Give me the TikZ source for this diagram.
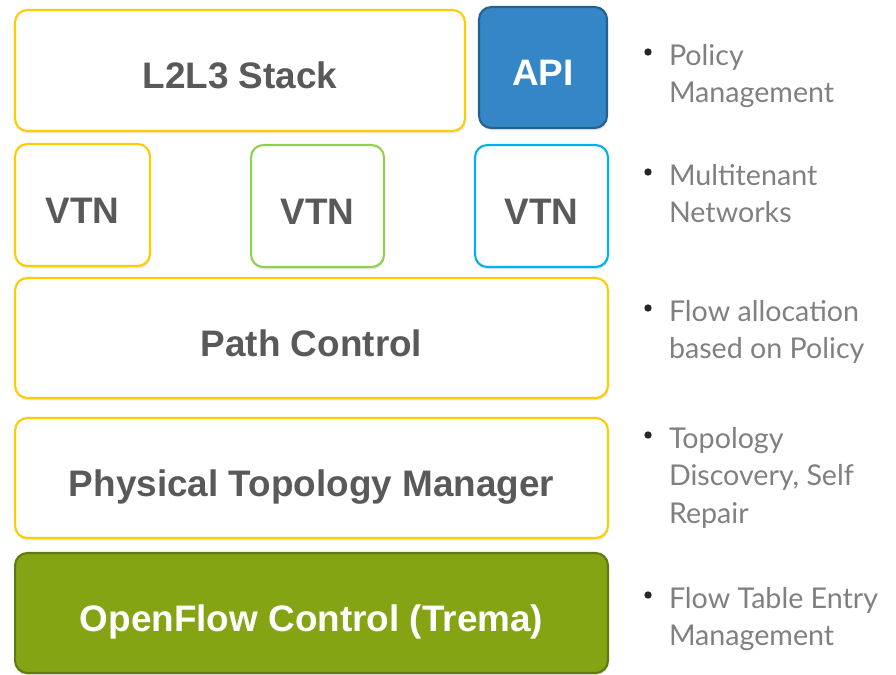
\documentclass[tikz,border=0pt]{standalone}
\usepackage{fontspec}
\setsansfont{Liberation Sans}
\newfontfamily\notefont{Lato}
\usetikzlibrary{shadows}

\definecolor{layeryellow}{HTML}{FFCC00}
\definecolor{vtngreen}{HTML}{92D050}
\definecolor{vtncyan}{HTML}{00B0F0}
\definecolor{apiblue}{HTML}{3486C6}
\definecolor{apiedge}{HTML}{25618F}
\definecolor{ofgreen}{HTML}{84A414}
\definecolor{ofedge}{HTML}{5F7A0E}
\definecolor{labelgray}{HTML}{595959}
\definecolor{notegray}{HTML}{808080}

\begin{document}
\begin{tikzpicture}[x=0.02cm,y=-0.02cm,inner sep=0pt,outer sep=0pt,
layer/.style={draw=layeryellow,fill=white,rounded corners=7pt,line width=1.2pt,
  font=\sffamily\bfseries\fontsize{21}{25}\selectfont,text=labelgray,
  text height=21pt,text depth=0pt,
  drop shadow={shadow xshift=0.4pt,shadow yshift=-1.4pt,opacity=0.18}},
solidblock/.style={layer,text=white},
note/.style={anchor=north west,align=left,font=\notefont\fontsize{16.3}{21.5}\selectfont,text=notegray}]

\useasboundingbox (0,0) rectangle (896,674);

\draw (240,70.5) node[layer,minimum width=9cm,minimum height=2.42cm] (stack) {L2L3 Stack};
\draw (543,67.5) node[solidblock,draw=apiedge,fill=apiblue,minimum width=2.56cm,minimum height=2.42cm] (api) {API};

\draw (82.5,205) node[layer,minimum width=2.7cm,minimum height=2.44cm] (vtnA) {VTN};
\draw (317.5,206) node[layer,draw=vtngreen,minimum width=2.66cm,minimum height=2.44cm] (vtnB) {VTN};
\draw (541.5,206) node[layer,draw=vtncyan,minimum width=2.66cm,minimum height=2.44cm] (vtnC) {VTN};

\draw (311.5,338) node[layer,minimum width=11.86cm,minimum height=2.4cm] (path) {Path Control};
\draw (311.5,478) node[layer,minimum width=11.86cm,minimum height=2.4cm] (topo) {Physical Topology Manager};
\draw (311.5,613) node[solidblock,draw=ofedge,fill=ofgreen,minimum width=11.86cm,minimum height=2.4cm] (openflow) {OpenFlow Control (Trema)};

\draw (669,44) node[note] (policy) {Policy\\Management};
\draw (669,164) node[note] (tenant) {Multitenant\\Networks};
\draw (669,300) node[note] (flow) {Flow allocation\\based on Policy};
\draw (669,427) node[note] (discovery) {Topology\\Discovery, Self\\Repair};
\draw (669,587) node[note] (entry) {Flow Table Entry\\Management};

\foreach \y in {52,172,308,435,595}
  \fill[black!85] (648,\y) circle (2.1pt);

\end{tikzpicture}
\end{document}
